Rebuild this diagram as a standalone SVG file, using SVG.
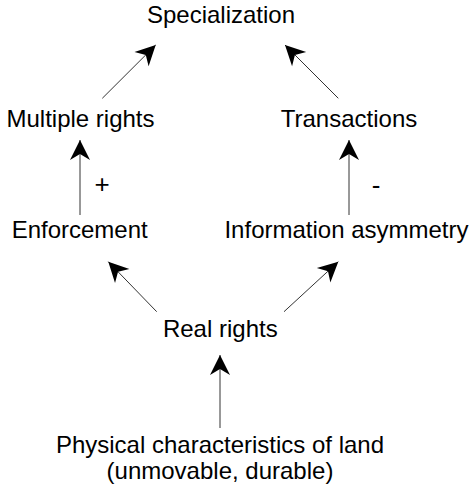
<svg xmlns="http://www.w3.org/2000/svg" width="473" height="486" viewBox="0 0 473 486">
<defs>
<style>
text{font-family:"Liberation Sans",Arial,sans-serif;font-size:24px;fill:#000;text-anchor:middle}
.c{stroke:#333;stroke-width:1;fill:none;marker-end:url(#ah)}
.sign{font-size:26px}
</style>
<marker id="ah" markerUnits="userSpaceOnUse" viewBox="-21 -11 22 22" refX="0" refY="0" markerWidth="22" markerHeight="22" orient="auto">
<path d="M0,0 L-20,-10 L-14,0 L-20,10 Z" fill="#000"/>
</marker>
</defs>
<rect width="473" height="486" fill="#fff"/>
<g id="connectors">
<line class="c" x1="102.3" y1="98.3" x2="155.7" y2="45"/>
<line class="c" x1="338.3" y1="98.3" x2="285" y2="45"/>
<line class="c" x1="80" y1="215" x2="80" y2="140"/>
<line class="c" x1="349" y1="215" x2="349" y2="140"/>
<line class="c" x1="156.7" y1="311.7" x2="108.3" y2="261.7"/>
<line class="c" x1="284" y1="311.7" x2="338.3" y2="261.7"/>
<line class="c" x1="220" y1="428" x2="220" y2="355"/>
<text class="sign" x="102" y="193">+</text>
<text class="sign" x="376" y="194">-</text>
</g>
<g id="specialization"><text x="221" y="23">Specialization</text></g>
<g id="multiple-rights"><text x="80.5" y="127">Multiple rights</text></g>
<g id="transactions"><text x="349" y="127">Transactions</text></g>
<g id="enforcement"><text x="79.7" y="238">Enforcement</text></g>
<g id="information-asymmetry"><text x="346.5" y="238">Information asymmetry</text></g>
<g id="real-rights"><text x="220.3" y="337">Real rights</text></g>
<g id="physical"><text x="220" y="453">Physical characteristics of land</text><text x="220" y="479">(unmovable, durable)</text></g>
</svg>
